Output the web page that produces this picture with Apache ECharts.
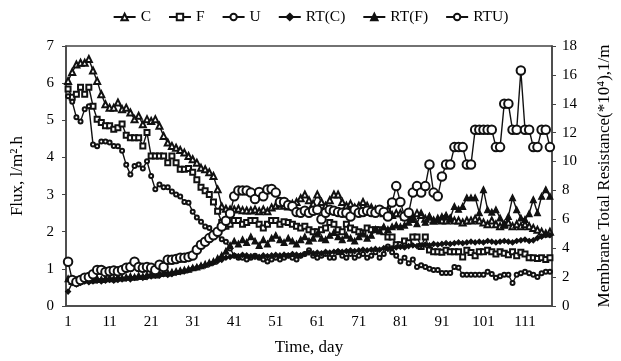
<!DOCTYPE html>
<html>
<head>
<meta charset="utf-8">
<script src="https://cdn.jsdelivr.net/npm/echarts@6/dist/echarts.min.js"></script>
<style>html,body{margin:0;padding:0;background:#fff}#c{width:621px;height:361px}</style>
</head>
<body>
<div id="c"></div>
<script>
var days = [];
for (var d = 1; d <= 117; d++) days.push(String(d));

var fluxC = [
6.06,6.3,6.5,6.55,6.55,6.65,6.34,6.06,5.7,5.43,
5.34,5.34,5.48,5.3,5.34,5.21,5.03,5.12,4.89,5.03,
4.98,5.03,4.85,4.58,4.4,4.31,4.26,4.2,4.13,4.04,
3.95,3.86,3.72,3.68,3.6,3.5,3.14,2.68,2.62,2.6,
2.6,2.62,2.58,2.57,2.57,2.6,2.55,2.6,2.55,2.65,
2.7,2.75,2.7,2.68,2.75,2.8,2.9,3.0,2.85,2.75,
3.0,2.8,2.7,2.85,3.0,3.0,2.8,2.7,2.75,2.65,
2.7,2.8,2.7,2.65,2.6,2.55,2.5,2.6,2.45,2.5,
2.5,2.4,2.45,2.4,2.5,2.45,2.35,2.4,2.3,2.35,
2.3,2.3,2.35,2.3,2.3,2.25,2.3,2.3,2.35,2.3,
2.25,2.2,2.3,2.2,2.15,2.2,2.25,2.15,2.2,2.15,
2.2,2.15,2.1,2.05,2.0,1.95,2.0];

var fluxF = [
5.84,5.62,5.7,5.89,5.7,5.89,5.38,5.03,4.94,4.85,
4.85,4.76,4.8,4.9,4.6,4.53,4.53,4.53,4.31,4.67,
4.04,4.04,4.04,4.04,3.86,4.04,3.86,3.68,3.68,3.7,
3.6,3.4,3.2,3.1,3.0,2.8,2.55,2.25,2.15,2.2,
2.3,2.3,2.2,2.25,2.3,2.3,2.2,2.1,2.2,2.3,
2.3,2.2,2.27,2.25,2.2,2.15,2.1,2.15,2.05,2.0,
2.0,2.05,2.1,2.25,2.2,2.05,2.0,2.2,2.1,2.05,
2.0,1.97,2.1,2.05,2.05,2.05,2.0,1.86,1.86,1.65,
1.65,1.75,1.7,1.86,1.86,1.6,1.86,1.51,1.46,1.46,
1.45,1.5,1.46,1.46,1.46,1.32,1.5,1.44,1.35,1.46,
1.46,1.5,1.46,1.4,1.46,1.42,1.38,1.46,1.35,1.45,
1.4,1.3,1.3,1.28,1.3,1.25,1.3];

var fluxU = [
5.65,5.5,5.08,4.97,5.3,5.38,4.35,4.3,4.43,4.43,
4.4,4.31,4.3,4.18,3.8,3.54,3.77,3.81,3.7,3.9,
3.5,3.14,3.27,3.2,3.2,3.08,3.0,2.95,2.8,2.78,
2.54,2.38,2.27,2.14,2.1,1.97,1.92,1.8,1.73,1.55,
1.35,1.3,1.3,1.25,1.3,1.35,1.3,1.25,1.2,1.25,
1.3,1.25,1.3,1.35,1.3,1.25,1.35,1.4,1.5,1.35,
1.3,1.35,1.4,1.3,1.3,1.45,1.35,1.3,1.4,1.3,
1.35,1.4,1.3,1.35,1.45,1.3,1.4,1.6,1.45,1.35,
1.2,1.3,1.15,1.25,1.05,1.1,1.05,1.0,0.97,0.97,
0.89,0.89,0.89,1.05,1.03,0.84,0.84,0.84,0.84,0.84,
0.84,0.92,0.86,0.76,0.8,0.84,0.84,0.62,0.84,0.88,
0.92,0.88,0.84,0.78,0.88,0.92,0.92];

var rtC = [
1.0,1.6,1.5,1.6,1.7,1.65,1.7,1.75,1.7,1.75,
1.8,1.75,1.8,1.85,1.9,1.85,1.95,2.0,1.95,2.0,
2.05,2.1,2.1,2.2,2.15,2.2,2.3,2.35,2.4,2.5,
2.6,2.65,2.75,2.8,2.9,3.0,3.1,3.2,3.34,3.4,
3.5,3.45,3.54,3.5,3.45,3.4,3.4,3.5,3.45,3.5,
3.54,3.5,3.55,3.5,3.6,3.55,3.5,3.6,3.7,3.65,
3.7,3.65,3.75,3.7,3.75,3.8,3.75,3.8,3.85,3.8,
3.85,3.9,3.85,3.9,3.95,3.9,4.0,3.95,4.0,4.05,
4.1,4.05,4.15,4.2,4.15,4.2,4.25,4.2,4.3,4.25,
4.3,4.35,4.3,4.35,4.4,4.35,4.4,4.45,4.4,4.45,
4.4,4.5,4.45,4.4,4.45,4.5,4.45,4.4,4.5,4.55,
4.6,4.5,4.55,4.7,4.8,4.9,4.9];

var rtF = [
1.9,1.7,1.8,1.75,1.8,1.85,1.8,1.9,1.85,1.9,
1.95,1.9,2.0,1.95,2.0,2.05,2.0,2.1,2.05,2.15,
2.2,2.15,2.25,2.3,2.3,2.35,2.4,2.45,2.5,2.55,
2.65,2.7,2.8,2.9,3.0,3.1,3.3,3.5,3.8,4.2,
4.5,4.3,4.6,4.4,4.8,4.5,4.2,4.6,4.3,4.7,
4.9,4.6,4.4,4.7,4.5,4.3,4.6,4.8,4.5,4.7,
5.0,4.7,4.6,4.9,5.1,4.8,4.6,4.9,4.7,4.5,
4.8,5.0,4.7,4.9,5.3,5.2,5.5,5.3,5.5,5.6,
5.5,5.6,5.8,6.0,5.7,6.46,5.8,6.2,5.9,6.0,
6.2,6.3,6.1,6.9,6.7,6.9,7.5,7.5,7.5,6.46,
8.06,6.67,6.5,6.67,6.1,5.6,6.2,7.5,6.67,6.1,
6.0,6.4,7.37,6.46,7.6,8.06,7.6];

var rtU = [
3.06,1.8,1.67,1.8,1.95,2.0,2.2,2.5,2.5,2.36,
2.4,2.45,2.4,2.5,2.64,2.7,3.06,2.7,2.64,2.7,
2.64,2.5,2.85,2.7,3.2,3.2,3.25,3.34,3.34,3.4,
3.5,3.9,4.24,4.45,4.7,4.9,5.14,5.5,5.9,6.4,
7.6,8.0,8.0,8.0,7.85,7.4,7.9,7.6,8.06,8.1,
7.85,7.2,7.2,7.0,6.9,6.5,6.46,6.6,6.46,6.6,
6.67,6.0,6.46,6.67,6.6,6.5,6.46,6.46,6.2,6.67,
6.46,6.5,6.6,6.5,6.46,6.67,6.5,6.2,7.16,8.3,
7.2,6.2,6.46,7.85,8.3,7.85,8.3,9.8,7.85,7.6,
8.96,9.8,9.8,11.0,11.0,11.0,9.8,9.8,12.2,12.2,
12.2,12.2,12.2,11.0,11.0,14.0,14.0,12.2,12.2,16.3,
12.2,12.2,11.0,11.0,12.2,12.2,11.0];

var FONT = 'Liberation Serif';
var INK = '#111';
function mk(name, data, symbol, size, axis) {
  return {
    name: name, type: 'line', data: data, yAxisIndex: axis,
    symbol: symbol, symbolSize: size, showAllSymbol: true,
    lineStyle: { color: INK, width: 1.4 },
    itemStyle: { color: INK, borderColor: INK, borderWidth: 1.2 },
    emphasis: { disabled: true }, animation: false
  };
}

var chart = echarts.init(document.getElementById('c'), null, { renderer: 'canvas' });
chart.setOption({
  backgroundColor: '#fff',
  animation: false,
  textStyle: { fontFamily: FONT, color: '#000' },
  legend: {
    top: 4, left: 'center', itemWidth: 22, itemHeight: 8, itemGap: 17,
    textStyle: { fontFamily: FONT, fontSize: 15.5, color: '#000' },
    data: ['C', 'F', 'U', 'RT(C)', 'RT(F)', 'RTU)']
  },
  grid: { left: 66, right: 64, top: 46, bottom: 55, show: true, borderColor: '#444', borderWidth: 1.5, backgroundColor: 'transparent' },
  xAxis: {
    type: 'category', data: days, boundaryGap: true,
    name: 'Time, day', nameLocation: 'middle', nameGap: 33,
    nameTextStyle: { fontFamily: FONT, fontSize: 17, color: '#000' },
    axisLine: { lineStyle: { color: '#444', width: 1.5 } },
    axisTick: { interval: 9, length: 4, lineStyle: { color: '#444' } },
    axisLabel: { interval: 9, margin: 9, fontFamily: FONT, fontSize: 15, color: '#000' },
    splitLine: { show: false }
  },
  yAxis: [{
    type: 'value', min: 0, max: 7, interval: 1, position: 'left',
    name: 'Flux, l/m\u00B2.h', nameLocation: 'middle', nameGap: 40, nameRotate: 90,
    nameTextStyle: { fontFamily: FONT, fontSize: 17, color: '#000' },
    axisLine: { show: true, lineStyle: { color: '#444', width: 1.5 } },
    axisTick: { show: true, length: 4, lineStyle: { color: '#444' } },
    axisLabel: { margin: 12, fontFamily: FONT, fontSize: 15, color: '#000' },
    splitLine: { show: false }
  }, {
    type: 'value', min: 0, max: 18, interval: 2, position: 'right',
    name: 'Membrane Total Resistance(*10\u2074),1/m', nameLocation: 'middle', nameGap: 44, nameRotate: 90,
    nameTextStyle: { fontFamily: FONT, fontSize: 17, color: '#000' },
    axisLine: { show: true, lineStyle: { color: '#444', width: 1.5 } },
    axisTick: { show: true, length: 4, lineStyle: { color: '#444' } },
    axisLabel: { margin: 10, fontFamily: FONT, fontSize: 15, color: '#000' },
    splitLine: { show: false }
  }],
  series: [
    mk('C', fluxC, 'emptyTriangle', 6, 0),
    mk('F', fluxF, 'emptyRect', 5, 0),
    mk('U', fluxU, 'emptyCircle', 4, 0),
    mk('RT(C)', rtC, 'diamond', 5, 1),
    mk('RT(F)', rtF, 'triangle', 6, 1),
    mk('RTU)', rtU, 'emptyCircle', 8.5, 1)
  ]
});
</script>
</body>
</html>
